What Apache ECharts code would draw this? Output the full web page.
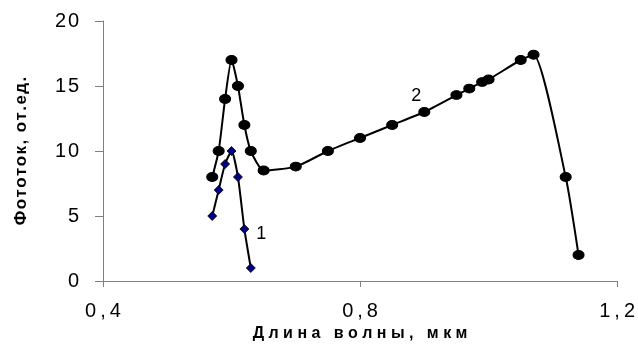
<!DOCTYPE html>
<html>
<head>
<meta charset="utf-8">
<script src="https://cdn.jsdelivr.net/npm/echarts@6/dist/echarts.min.js"></script>
<style>
html,body{margin:0;padding:0;background:#fff;}
#chart{width:638px;height:347px;}
</style>
</head>
<body>
<div id="chart"></div>
<script>
// Data
const curve1X = [0.57, 0.58, 0.59, 0.60, 0.61, 0.62, 0.63];
const curve1Y = [5, 7, 9, 10, 8, 4, 1];
const curve2X = [0.57, 0.58, 0.59, 0.60, 0.61, 0.62, 0.63, 0.65, 0.70, 0.75, 0.80, 0.85, 0.90, 0.95, 0.97, 0.99, 1.00, 1.05, 1.07, 1.12, 1.14];
const curve2Y = [8, 10, 14, 17, 15, 12, 10, 8.5, 8.8, 10, 11, 12, 13, 14.3, 14.8, 15.3, 15.5, 17, 17.4, 8, 2];
const curveNames = ['1', '2'];
const xTitle = 'Длина волны, мкм';
const yTitle = 'Фототок, от.ед.';

const sp = (s, ch) => String(s).split('').join(ch);
const FONT = 'Liberation Sans, Arial, sans-serif';

function build(xs, ys, labelIdx, name, labelOffset) {
  return xs.map((x, i) => {
    const item = { value: [x, ys[i]] };
    if (i === labelIdx) {
      item.label = {
        show: true, formatter: name, position: 'inside', offset: labelOffset,
        color: '#000', fontSize: 18, fontFamily: FONT
      };
    }
    return item;
  });
}

const chart = echarts.init(document.getElementById('chart'), null, { renderer: 'canvas' });
chart.setOption({
  backgroundColor: '#fff',
  animation: false,
  grid: { left: 103, right: 18, top: 21, bottom: 62 },
  xAxis: {
    type: 'value', min: 0.4, max: 1.2, interval: 0.4,
    name: sp(xTitle, ' '), nameLocation: 'middle', nameGap: 45,
    nameTextStyle: { fontFamily: FONT, fontWeight: 'bold', fontSize: 16, color: '#000' },
    axisLine: { show: true, lineStyle: { color: '#808080', width: 1 } },
    axisTick: { show: true, length: 6, lineStyle: { color: '#808080' } },
    axisLabel: {
      margin: 20, fontFamily: FONT, fontSize: 20, color: '#000',
      formatter: v => sp(v.toFixed(1).replace('.', ','), '\u2009')
    },
    splitLine: { show: false }
  },
  yAxis: {
    type: 'value', min: 0, max: 20, interval: 5,
    name: sp(yTitle, '\u200a'), nameLocation: 'middle', nameGap: 73,
    nameTextStyle: { fontFamily: FONT, fontWeight: 'bold', fontSize: 17, color: '#000' },
    axisLine: { show: true, lineStyle: { color: '#808080', width: 1 } },
    axisTick: { show: true, length: 8, lineStyle: { color: '#808080' } },
    axisLabel: {
      margin: 24, fontFamily: FONT, fontSize: 20, color: '#000',
      formatter: v => sp(v, '\u200a')
    },
    splitLine: { show: false }
  },
  series: [
    {
      name: curveNames[1], type: 'line', smooth: 0.2,
      data: build(curve2X, curve2Y, 12, curveNames[1], [-8, -16]),
      symbol: 'circle', symbolSize: [11, 9],
      lineStyle: { color: '#000', width: 2 },
      itemStyle: { color: '#000', borderColor: '#000' },
      z: 2
    },
    {
      name: curveNames[0], type: 'line', smooth: 0.2,
      data: build(curve1X, curve1Y, 5, curveNames[0], [17, 5]),
      symbol: 'diamond', symbolSize: [9, 9],
      lineStyle: { color: '#000', width: 2 },
      itemStyle: { color: '#000080', borderColor: '#000', borderWidth: 0.8 },
      z: 3
    }
  ]
});
</script>
</body>
</html>
